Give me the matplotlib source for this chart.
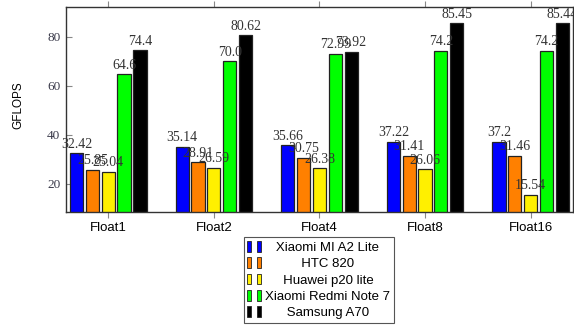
import numpy as np
import matplotlib
matplotlib.use('Agg')
from matplotlib import pyplot as plt
from matplotlib.patches import Rectangle
from matplotlib.legend_handler import HandlerTuple

groups = ['Float1', 'Float2', 'Float4', 'Float8', 'Float16']
devices = ['Xiaomi MI A2 Lite', 'HTC 820', 'Huawei p20 lite',
           'Xiaomi Redmi Note 7', 'Samsung A70']
colors = ['#0000ff', '#ff8000', '#fff000', '#00ff00', '#000000']

mi_a2 = [32.42, 35.14, 35.66, 37.22, 37.2]
htc = [25.85, 28.91, 30.75, 31.41, 31.46]
huawei = [25.04, 26.59, 26.38, 26.06, 15.54]
redmi = [64.6, 70.0, 72.99, 74.2, 74.2]
samsung = [74.4, 80.62, 73.92, 85.45, 85.44]
series = [mi_a2, htc, huawei, redmi, samsung]
value_labels = [
    ['32.42', '35.14', '35.66', '37.22', '37.2'],
    ['25.85', '28.91', '30.75', '31.41', '31.46'],
    ['25.04', '26.59', '26.38', '26.06', '15.54'],
    ['64.6', '70.0', '72.99', '74.2', '74.2'],
    ['74.4', '80.62', '73.92', '85.45', '85.44'],
]

fig = plt.figure(figsize=(5.74, 3.25), dpi=100)
ax = fig.add_axes([0.115, 0.348, 0.883, 0.63])

x = np.arange(len(groups))
step = 0.15
width = 0.125
for i, (vals, c) in enumerate(zip(series, colors)):
    pos = x + (i - 2) * step
    ax.bar(pos, vals, width, bottom=0, color=c, edgecolor='#222222', linewidth=0.9, zorder=2)
    for p, v, lab in zip(pos, vals, value_labels[i]):
        ax.text(p, v + 1.0, lab, ha='center', va='bottom', fontsize=10,
                family='Liberation Serif', color='#333333', zorder=3, clip_on=False)

ax.set_xlim(-0.4, 4.4)
ax.set_ylim(8.6, 92)
ax.set_xticks(x)
ax.set_xticklabels(groups, fontsize=9.5, family='Liberation Sans')
ax.set_yticks([20, 40, 60, 80])
ax.set_yticklabels(['20', '40', '60', '80'], fontsize=9.5, family='Liberation Serif', color='#3a3a4a')
ax.tick_params(axis='x', direction='out', top=True, length=4, color='#888888', pad=3)
ax.tick_params(axis='y', direction='in', length=4, color='#888888', pad=4)
ax.set_ylabel('GFLOPS', fontsize=8.5, family='Liberation Sans')
ax.yaxis.set_label_coords(-0.082, 0.52)
for s in ax.spines.values():
    s.set_color('#333333')
    s.set_linewidth(1.0)

# centre legend texts by padding with spaces, like the original
r = fig.canvas.get_renderer()
def text_w(s):
    t = fig.text(0, 0, s, family='Liberation Sans', size=9.5)
    w = t.get_window_extent(r).width
    t.remove()
    return w
widths = [text_w(d) for d in devices]
sp = (text_w('a a') - text_w('aa'))
maxw = max(widths)
labels = [' ' * int(round((maxw - w) / 2 / sp)) + d for d, w in zip(devices, widths)]

handles = []
for c in colors:
    a = Rectangle((0, 0), 1, 1, facecolor=c, edgecolor='#222222', linewidth=0.6)
    b = Rectangle((0, 0), 1, 1, facecolor=c, edgecolor='#222222', linewidth=0.6)
    handles.append((a, b))

leg = fig.legend(handles, labels, loc='upper center', bbox_to_anchor=(0.555, 0.271),
                 handler_map={tuple: HandlerTuple(ndivide=None, pad=0.4)},
                 prop={'family': 'Liberation Sans', 'size': 9.5},
                 handlelength=1.0, handleheight=0.9, handletextpad=0.3,
                 labelspacing=0.25, borderpad=0.3, borderaxespad=0, fancybox=False,
                 edgecolor='#555555', framealpha=1)
leg.get_frame().set_linewidth(0.8)

fig.savefig('out.png', dpi=100)
